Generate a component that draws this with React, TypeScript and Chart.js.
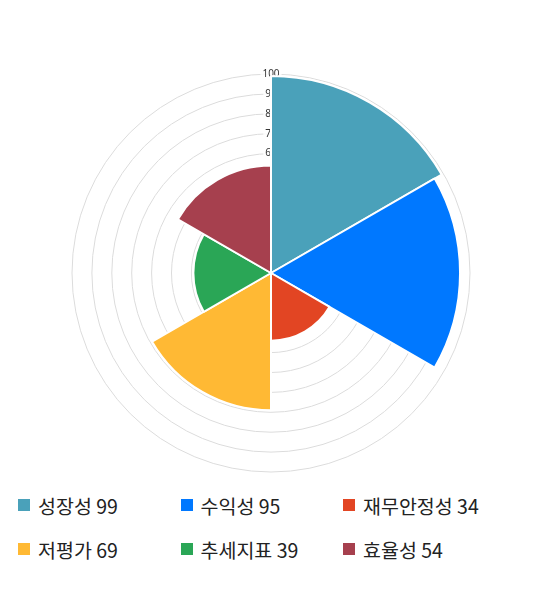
import { useEffect, useRef } from 'react';
import { Chart, registerables } from 'chart.js';

Chart.register(...registerables);

const labels = ['성장성', '수익성', '재무안정성', '저평가', '추세지표', '효율성'];
const scores = [99, 95, 34, 69, 39, 54];
const colors = ['#4aa1ba', '#0078ff', '#e24523', '#ffb934', '#2aa656', '#a6404e'];

export default function App() {
  const canvasRef = useRef<HTMLCanvasElement>(null);
  const chartRef = useRef<Chart | null>(null);

  useEffect(() => {
    if (!canvasRef.current) return;

    const config: any = {
      type: 'polarArea',
      data: {
        labels,
        datasets: [
          {
            data: scores,
            backgroundColor: colors,
            borderColor: '#ffffff',
            borderWidth: 2,
          },
        ],
      },
      options: {
        responsive: true,
        maintainAspectRatio: false,
        animation: false,
        layout: { padding: { left: 2 } },
        plugins: {
          legend: { display: false },
          tooltip: { enabled: false },
        },
        scales: {
          r: {
            min: 0,
            max: 100,
            ticks: {
              stepSize: 10,
              color: '#333',
              font: { family: 'Noto Sans', size: 10 },
              backdropColor: 'rgba(255,255,255,0.85)',
              z: 0,
            },
            grid: { color: '#dcdcdc', lineWidth: 1 },
            angleLines: { display: false },
            pointLabels: { display: false },
          },
        },
      },
    };

    if (chartRef.current) chartRef.current.destroy();
    chartRef.current = new Chart(canvasRef.current, config);

    return () => {
      chartRef.current?.destroy();
      chartRef.current = null;
    };
  }, []);

  return (
    <div style={{ width: 524, fontFamily: '"Noto Sans CJK KR", "Noto Sans", sans-serif' }}>
      <div style={{ paddingTop: 59 }}>
        <div style={{ height: 412, position: 'relative' }}>
          <canvas ref={canvasRef} />
        </div>
      </div>
      <div
        style={{
          marginTop: 4,
          paddingLeft: 10,
          display: 'grid',
          gridTemplateColumns: 'repeat(3, 162.5px)',
        }}
      >
        {labels.map((l, i) => (
          <div
            key={l}
            style={{ display: 'flex', alignItems: 'center', height: 44, fontSize: 19.5, color: '#222' }}
          >
            <span
              style={{ width: 12, height: 12, background: colors[i], marginRight: 8, flex: 'none' }}
            />
            <span>{`${l} ${scores[i]}`}</span>
          </div>
        ))}
      </div>
    </div>
  );
}
